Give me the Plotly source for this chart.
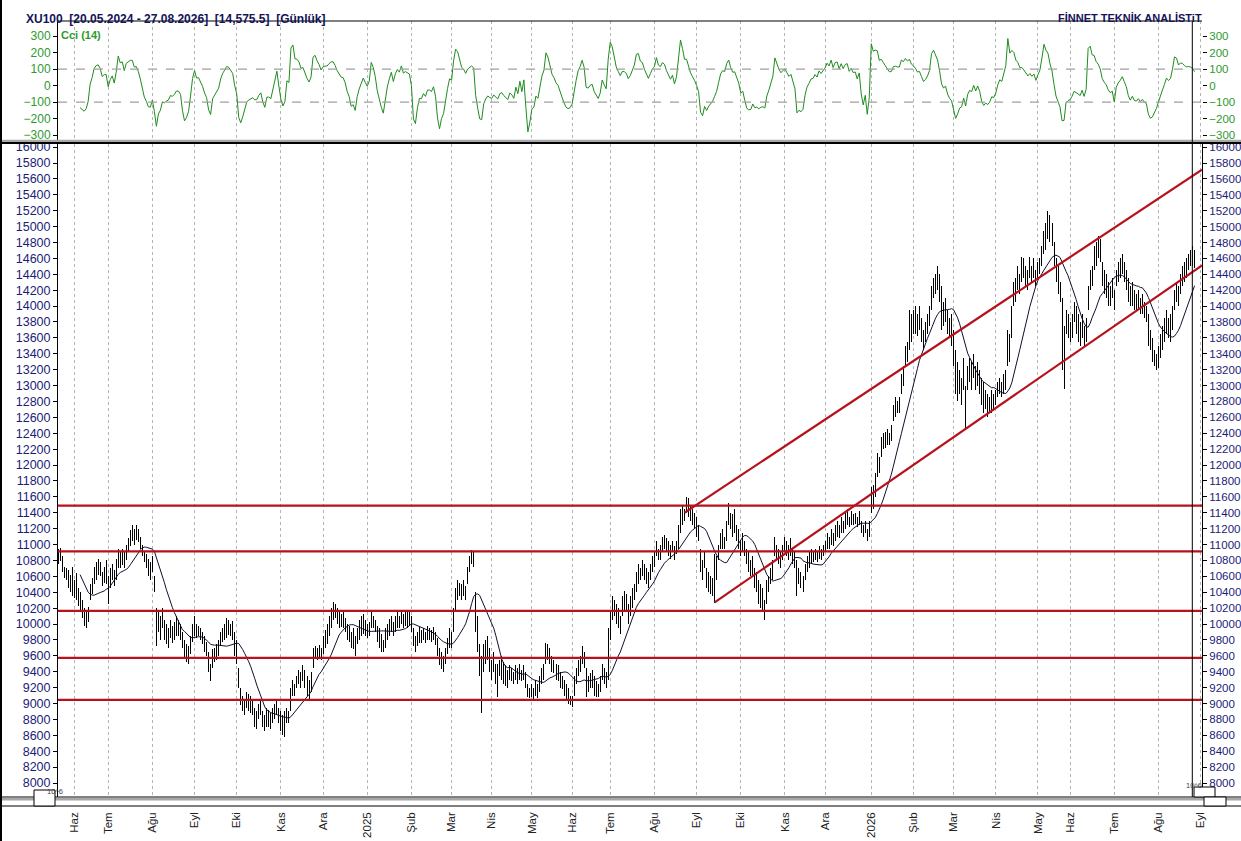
import numpy as np
import pandas as pd
import plotly.graph_objects as go

# daily high / low of XU100, 20.05.2024 - 27.08.2026
high = [
    10980, 10990, 10940, 10960, 10850, 10720, 10700, 10680, 10620, 10720,
    10560, 10640, 10450, 10400, 10300, 10200, 10150, 10220, 10500, 10580,
    10720, 10780, 10820, 10780, 10650, 10720, 10800, 10600, 10700, 10760,
    10680, 10820, 10950, 10900, 10950, 10900, 11000, 11080, 11180, 11250,
    11200, 11250, 11200, 11100, 11000, 10900, 10880, 10820, 10780, 10850,
    10600, 10200, 10180, 10100, 10200, 10050, 10000, 9950, 10050, 9980,
    10020, 10100, 10050, 10000, 9900, 9800, 9750, 9720, 9850, 10000,
    10100, 10000, 9980, 9950, 9900, 9850, 9780, 9650, 9500, 9680,
    9700, 9750, 9800, 9900, 9950, 10000, 10080, 10050, 10000, 10040,
    9900, 9800, 9450, 9200, 9100, 9050, 9150, 9120, 9100, 9060,
    8950, 8900, 9000, 9050, 8900, 8850, 8950, 8920, 8880, 8950,
    9000, 9050, 8950, 8900, 8850, 8900, 8950, 8900, 9200, 9300,
    9250, 9350, 9420, 9400, 9480, 9420, 9350, 9300, 9400, 9700,
    9720, 9700, 9740, 9700, 9850, 9920, 10000, 10100, 10200, 10280,
    10250, 10200, 10170, 10120, 10150, 10080, 10000, 9980, 9900, 9950,
    9850, 9950, 10050, 10100, 10120, 10050, 10000, 10020, 10150, 10100,
    10050, 9980, 9950, 9880, 9800, 9950, 10000, 10060, 10100, 10020,
    10100, 10150, 10100, 10170, 10120, 10150, 10180, 10150, 10100, 9950,
    9850, 9900, 9960, 9920, 9950, 9900, 9970, 9950, 9930, 9960,
    9900, 9820, 9700, 9650, 9600, 9700, 9820, 9950, 9900, 10200,
    10450, 10560, 10520, 10500, 10560, 10480, 10720, 10850, 10930, 10900,
    10400, 10100, 9750, 9600, 9750, 9800, 9850, 9700, 9550, 9650,
    9500, 9500, 9550, 9600, 9520, 9480, 9420, 9480, 9450, 9400,
    9480, 9450, 9500, 9420, 9480, 9400, 9250, 9200, 9250, 9200,
    9300, 9250, 9350, 9450, 9500, 9760, 9750, 9700, 9600, 9550,
    9500, 9480, 9400, 9350, 9300, 9250, 9200, 9100, 9100, 9350,
    9450, 9550, 9600, 9720, 9650, 9450, 9350, 9380, 9420, 9350,
    9280, 9250, 9350, 9500, 9450, 9400, 9950, 10150, 10350, 10300,
    10250, 10200, 10100, 10350, 10420, 10380, 10250, 10350, 10450, 10500,
    10650, 10750, 10700, 10800, 10750, 10700, 10650, 10750, 10850, 10900,
    11050, 10950, 11000, 11100, 11120, 11080, 11050, 11000, 11050, 10980,
    11050, 11250, 11450, 11500, 11450, 11600, 11580, 11500, 11450, 11400,
    11350, 11250, 10950, 10800, 10900, 10700, 10650, 10600, 10580, 10880,
    10850, 11000, 11150, 11200, 11100, 11300, 11520, 11400, 11380, 11450,
    11250, 11200, 11050, 11150, 11050, 10950, 10900, 10800, 10850, 10700,
    10650, 10550, 10500, 10450, 10300, 10550, 10600, 10700, 10800, 11100,
    11000, 10950, 10900, 11000, 11100, 11050, 11000, 11080, 10950, 10900,
    10800, 10700, 10650, 10600, 10750, 10850, 10900, 10950, 10900, 10950,
    10900, 10980, 10950, 11000, 11050, 11150, 11100, 11200, 11150, 11250,
    11300, 11250, 11350, 11300, 11400, 11450, 11350, 11420, 11380, 11400,
    11350, 11420, 11300, 11250, 11300, 11200, 11300, 11720, 11750, 11900,
    12150, 12100, 12350, 12400, 12420, 12450, 12400, 12500, 12750, 12850,
    12800, 12850, 13150, 13250, 13500, 13550, 13950, 13900, 13950, 14000,
    13900, 14000, 13850, 13700, 13800, 13900, 14000, 14250, 14350, 14400,
    14500, 14400, 14250, 14050, 14100, 13950, 13850, 13900, 13700, 13450,
    13300, 13200, 13100, 13350, 13000, 13250, 13350, 13300, 13400, 13250,
    13300, 13200, 13100, 13050, 12950, 12900, 12850, 12950, 12900, 12950,
    13050, 13100, 13050, 13150, 13200, 13700, 13650, 14000, 14300, 14350,
    14500, 14400, 14620, 14600, 14500, 14450, 14620, 14500, 14600, 14450,
    14550, 14600, 14750, 14950, 15050, 15200, 15150, 15050, 14800, 14600,
    14500, 14300, 14100, 13750, 13950, 13900, 13800, 13900, 14050, 14000,
    13900, 13800, 13900, 13750, 13850, 14250, 14450, 14500, 14750, 14800,
    14880, 14850, 14550, 14450, 14400, 14300, 14250, 14350, 14200, 14450,
    14550, 14600, 14650, 14550, 14450, 14350, 14250, 14300, 14200, 14150,
    14200, 14100, 14150, 14050, 14000, 13900, 13700, 13600, 13450, 13400,
    13500, 13650, 13750, 13850, 13950, 13850, 13900, 14000, 14200, 14300,
    14250, 14400, 14500, 14550, 14600, 14650, 14700, 14750, 14700,
]
low = [
    10800, 10820, 10760, 10790, 10650, 10580, 10560, 10450, 10400, 10350,
    10330, 10300, 10230, 10150, 10080, 9980, 9950, 10020, 10300, 10380,
    10500, 10560, 10620, 10600, 10480, 10520, 10500, 10250, 10450, 10550,
    10480, 10560, 10700, 10700, 10740, 10700, 10800, 10900, 10980, 11050,
    11000, 11060, 11030, 10950, 10850, 10780, 10700, 10600, 10560, 10650,
    10400, 9720, 9900, 9800, 9950, 9800, 9750, 9700, 9820, 9760,
    9800, 9850, 9850, 9800, 9700, 9560, 9520, 9500, 9620, 9780,
    9850, 9830, 9850, 9800, 9750, 9650, 9600, 9400, 9280, 9450,
    9520, 9550, 9600, 9720, 9780, 9800, 9820, 9860, 9850, 9800,
    9600, 9500, 9200, 8980, 8900, 8850, 8950, 8900, 8880, 8850,
    8700, 8680, 8800, 8850, 8700, 8650, 8700, 8700, 8680, 8750,
    8800, 8850, 8750, 8650, 8600, 8580, 8750, 8760, 8900, 9100,
    9100, 9200, 9250, 9200, 9280, 9200, 9100, 9050, 9150, 9450,
    9560, 9550, 9560, 9550, 9620, 9700, 9750, 9850, 9950, 10050,
    10080, 10000, 9950, 9960, 9950, 9900, 9800, 9780, 9700, 9680,
    9600, 9750, 9800, 9850, 9880, 9850, 9820, 9850, 9950, 9950,
    9900, 9780, 9700, 9650, 9650, 9700, 9800, 9850, 9900, 9850,
    9900, 9950, 9950, 10000, 9950, 9980, 9950, 9980, 9900, 9720,
    9650, 9720, 9760, 9760, 9800, 9760, 9800, 9800, 9780, 9800,
    9740, 9600, 9480, 9440, 9400, 9500, 9620, 9700, 9700, 9900,
    10150, 10300, 10350, 10300, 10350, 10300, 10500, 10650, 10750, 10720,
    9900, 9650, 9350, 8880, 9400, 9500, 9550, 9400, 9300, 9400,
    9250, 9080, 9350, 9300, 9250, 9220, 9200, 9300, 9280, 9250,
    9300, 9250, 9300, 9280, 9300, 9200, 9080, 9070, 9080, 9060,
    9100, 9070, 9150, 9250, 9300, 9500, 9550, 9500, 9400, 9380,
    9300, 9280, 9200, 9180, 9100, 9050, 9000, 8980, 8960, 9100,
    9250, 9350, 9400, 9500, 9450, 9080, 9150, 9200, 9200, 9100,
    9080, 9080, 9150, 9300, 9250, 9200, 9300, 9800, 10050, 10100,
    10000, 9950, 9880, 10100, 10150, 10150, 10000, 10100, 10200, 10300,
    10400, 10500, 10550, 10600, 10550, 10500, 10450, 10550, 10650, 10720,
    10850, 10800, 10800, 10900, 10950, 10900, 10850, 10820, 10900, 10800,
    10880, 10950, 11150, 11250, 11300, 11400, 11350, 11300, 11250, 11200,
    11100, 11050, 10650, 10550, 10700, 10450, 10400, 10380, 10350, 10270,
    10550, 10800, 10950, 10950, 10950, 11050, 11250, 11200, 11100, 11150,
    11050, 10950, 10850, 10900, 10850, 10750, 10650, 10600, 10600, 10450,
    10400, 10250, 10200, 10150, 10050, 10250, 10400, 10500, 10550, 10850,
    10800, 10750, 10700, 10800, 10900, 10850, 10800, 10850, 10750, 10700,
    10350, 10500, 10450, 10400, 10550, 10650, 10700, 10750, 10780, 10800,
    10780, 10820, 10800, 10850, 10900, 10950, 10950, 11000, 10980, 11050,
    11100, 11080, 11150, 11150, 11200, 11250, 11220, 11250, 11240, 11260,
    11220, 11250, 11150, 11100, 11150, 11050, 11100, 11400, 11450, 11600,
    11850, 11900, 12100, 12200, 12220, 12250, 12250, 12300, 12550, 12600,
    12650, 12650, 12900, 13000, 13250, 13300, 13450, 13550, 13650, 13650,
    13620, 13700, 13550, 13450, 13550, 13650, 13750, 13950, 14100, 14150,
    14200, 14050, 13700, 13750, 13800, 13650, 13600, 13500, 13250, 12900,
    12800, 12900, 12750, 12950, 12450, 12950, 13050, 12950, 13100, 12950,
    13000, 12900, 12750, 12650, 12700, 12600, 12650, 12650, 12700, 12750,
    12850, 12900, 12850, 12900, 12950, 13250, 13300, 13600, 14000, 14050,
    14200, 14150, 14300, 14350, 14250, 14200, 14350, 14300, 14350, 14250,
    14350, 14400, 14500, 14650, 14700, 14850, 14800, 14750, 14500, 14300,
    14150, 14050, 13200, 12960, 13650, 13600, 13550, 13600, 13800, 13650,
    13550, 13500, 13600, 13500, 13550, 13950, 14200, 14250, 14450, 14500,
    14600, 14550, 14250, 14150, 14100, 14000, 14000, 14100, 13950, 14250,
    14300, 14350, 14400, 14300, 14200, 14050, 14000, 14000, 13950, 13950,
    13950, 13900, 13900, 13850, 13800, 13500, 13450, 13300, 13250, 13200,
    13220, 13350, 13450, 13550, 13650, 13600, 13550, 13700, 13950, 14050,
    14000, 14150, 14250, 14300, 14350, 14450, 14500, 14500, 14480,
]

# Borsa Istanbul full-day closures on weekdays
holidays = [
    "2024-06-17", "2024-06-18", "2024-06-19", "2024-07-15", "2024-08-30", "2024-10-29",
    "2025-01-01", "2025-03-31", "2025-04-01", "2025-04-23", "2025-05-01", "2025-05-19",
    "2025-06-06", "2025-06-09", "2025-07-15", "2025-10-29",
    "2026-01-01", "2026-03-20", "2026-04-23", "2026-05-01", "2026-05-19",
    "2026-05-27", "2026-05-28", "2026-05-29", "2026-07-15",
]
month_abbr = ["Oca", "Şub", "Mar", "Nis", "May", "Haz", "Tem", "Ağu", "Eyl", "Eki", "Kas", "Ara"]

# support / resistance levels and channel anchor points (bar index, price)
levels = [11490, 10915, 10165, 9575, 9045]
upper_pts = [(314, 11400), (491, 14365)]
lower_pts = [(329, 10272), (401, 11530)]

ma_period = 14
cci_period = 14

# ---------------------------------------------------------------
days = pd.bdate_range("2024-05-20", "2026-09-04")
days = days[~days.isin(pd.to_datetime(holidays))]
n = len(high)
x_left, x_right = 2.0, 571.7

tickvals, ticktext = [], []
for i in range(1, len(days)):
    if days[i].month != days[i - 1].month and i <= x_right:
        tickvals.append(i)
        m = days[i].month
        ticktext.append(str(days[i].year) if m == 1 else month_abbr[m - 1])

hi = pd.Series(high, dtype=float)
lo = pd.Series(low, dtype=float)
mid = (hi + lo) / 2
ma = mid.rolling(ma_period).mean()
tp = (hi + lo + mid) / 3
sma = tp.rolling(cci_period).mean()
mad = tp.rolling(cci_period).apply(lambda v: np.abs(v - v.mean()).mean(), raw=True)
cci = (tp - sma) / (0.015 * mad)

bx, by = [], []
for i in range(n):
    bx += [i, i, None]
    by += [low[i], high[i], None]

fig = go.Figure()
fig.add_trace(go.Scatter(x=bx, y=by, mode="lines", line=dict(color="black", width=1),
                         hoverinfo="skip"))
fig.add_trace(go.Scatter(x=list(range(n)), y=ma, mode="lines",
                         line=dict(color="#101030", width=1)))


def channel(pts):
    (x0, y0), (x1, y1) = pts
    slope = (y1 - y0) / (x1 - x0)
    return [x0, x_right], [y0, y0 + slope * (x_right - x0)]


for pts in (upper_pts, lower_pts):
    cx, cy = channel(pts)
    fig.add_trace(go.Scatter(x=cx, y=cy, mode="lines", line=dict(color="#b5121b", width=2.2)))

fig.add_trace(go.Scatter(x=list(range(n)), y=cci, mode="lines", xaxis="x2", yaxis="y2",
                         line=dict(color="#1e8c1e", width=1)))
# right-hand copies of the value axes
fig.add_trace(go.Scatter(x=[None], y=[None], yaxis="y3", showlegend=False))
fig.add_trace(go.Scatter(x=[None], y=[None], xaxis="x2", yaxis="y4", showlegend=False))

for lv in levels:
    fig.add_shape(type="line", xref="paper", x0=0, x1=1, yref="y", y0=lv, y1=lv,
                  line=dict(color="#b5121b", width=2.2))
for lv in (100, -100):
    fig.add_shape(type="line", xref="paper", x0=0, x1=1, yref="y2", y0=lv, y1=lv,
                  line=dict(color="#a0a0a0", width=1.2, dash="dash"))

W, H, L, T, PW, PH = 1241, 841, 58, 21, 1144, 776


def px(x):
    return (x - L) / PW


def py(y):
    return (T + PH - y) / PH


def hline(y, color="black", width=1, x0=0, x1=W):
    fig.add_shape(type="line", xref="paper", yref="paper", x0=px(x0), x1=px(x1),
                  y0=py(y), y1=py(y), line=dict(color=color, width=width))


def band(y0, y1, color="#a8a8a8"):
    fig.add_shape(type="rect", xref="paper", yref="paper", x0=px(0), x1=px(W),
                  y0=py(y1), y1=py(y0), fillcolor=color, line=dict(width=0))


def box(x0, y0, x1, y1, text=""):
    fig.add_shape(type="rect", xref="paper", yref="paper", x0=px(x0), x1=px(x1),
                  y0=py(y1), y1=py(y0), fillcolor="white", line=dict(color="black", width=1))
    if text:
        fig.add_annotation(xref="paper", yref="paper", x=px((x0 + x1) / 2),
                           y=py((y0 + y1) / 2), text=text, showarrow=False,
                           font=dict(size=7.5, color="#444"))


# panel frames and separators
hline(21, x0=L, x1=1202)
band(139.8, 142)
hline(143, width=2)
hline(797)
band(798, 800.5)
hline(806)
fig.add_shape(type="line", xref="paper", yref="paper", x0=px(1192.3), x1=px(1192.3),
              y0=py(797), y1=py(21), line=dict(color="black", width=1))
fig.add_shape(type="line", xref="paper", yref="paper", x0=px(1), x1=px(1),
              y0=py(0), y1=py(H), line=dict(color="black", width=2))
box(34, 790, 55, 806, "10^6")
box(1194, 787, 1215, 797, "10^6")
box(1204, 797, 1226, 806)

navy = "#1c1c78"
green = "#2e9a2e"
fig.add_annotation(xref="paper", yref="paper", x=px(24), y=py(10), xanchor="left",
                   text="<b>XU100  [20.05.2024 - 27.08.2026]  [14,575.5]  [Günlük]</b>",
                   showarrow=False, font=dict(size=12, color="#141458"))
fig.add_annotation(xref="paper", yref="paper", x=px(1204), y=py(10), xanchor="right",
                   text="<b>FİNNET TEKNİK ANALİSTiT</b>",
                   showarrow=False, font=dict(size=11, color="#141458"))
fig.add_annotation(xref="paper", yref="paper", x=px(59), y=py(27.5), xanchor="left",
                   text="<b>Cci (14)</b>", showarrow=False, font=dict(size=11, color=green))

main_dom = [0, py(144)]
top_dom = [py(141), 1]
price_range = [7824, 16039]
price_ticks = list(range(8000, 16001, 200))
cci_range = [-336, 391]
cci_ticks = [-300, -200, -100, 0, 100, 200, 300]

grid = dict(showgrid=True, gridcolor="#b4b4b4", griddash="dot", gridwidth=1, zeroline=False,
            automargin=False)
yfont = dict(size=12.5, color=navy)
yfont_r = dict(size=11.5, color=navy)
cfont = dict(size=12, color=green)
cfont_r = dict(size=11.5, color=green)
yaxis_common = dict(ticks="outside", ticklen=4, tickcolor="black", showgrid=False,
                    zeroline=False, tickformat="d", linecolor="black", automargin=False)

fig.update_layout(
    width=W, height=H,
    margin=dict(l=L, r=W - L - PW, t=T, b=H - T - PH, autoexpand=False),
    paper_bgcolor="white", plot_bgcolor="white", showlegend=False,
    font=dict(family="Liberation Sans, Arial, sans-serif", size=12),
    xaxis=dict(domain=[0, 1], anchor="y", range=[x_left, x_right], tickvals=tickvals,
               ticktext=ticktext, tickangle=-90, ticks="", ticklabelstandoff=12,
               tickfont=dict(size=11.5, color="#222"), showline=False, **grid),
    xaxis2=dict(domain=[0, 1], anchor="y2", matches="x", tickvals=tickvals,
                showticklabels=False, ticks="", showline=False, **grid),
    yaxis=dict(domain=main_dom, anchor="x", range=price_range, tickvals=price_ticks,
               showline=True, tickfont=yfont, **yaxis_common),
    yaxis3=dict(domain=main_dom, anchor="x", overlaying="y", side="right", range=price_range,
                tickvals=price_ticks, showline=True, tickfont=yfont_r, **yaxis_common),
    yaxis2=dict(domain=top_dom, anchor="x2", range=cci_range, tickvals=cci_ticks,
                showline=True, tickfont=cfont, **yaxis_common),
    yaxis4=dict(domain=top_dom, anchor="x2", overlaying="y2", side="right", range=cci_range,
                tickvals=cci_ticks, showline=False, tickfont=cfont_r, **yaxis_common),
)

# no page margin, and hard-edged price bars like the original terminal
post = """
document.body.style.margin = '0';
var gd = document.getElementById('{plot_id}');
function crisp() {
  var t = gd.querySelectorAll('.scatterlayer .trace')[0];
  if (t) { t.querySelectorAll('path').forEach(function (p) { p.style.shapeRendering = 'crispEdges'; }); }
}
crisp();
gd.on('plotly_afterplot', crisp);
"""
fig.write_html("out.html", post_script=post, config={"displayModeBar": False})
